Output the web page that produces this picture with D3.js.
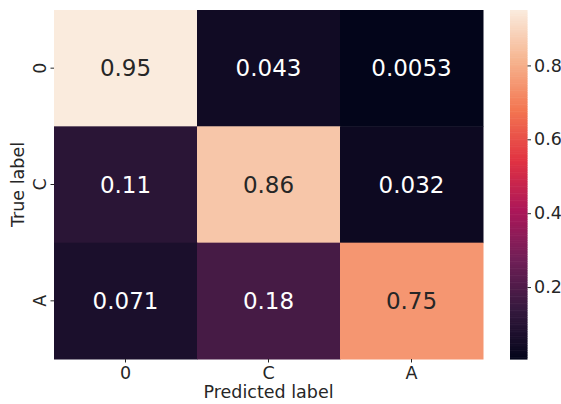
<!DOCTYPE html>
<html>
<head>
<meta charset="utf-8">
<script src="https://cdn.jsdelivr.net/npm/d3@7"></script>
<style>
  body { margin: 0; background: #fff; }
  svg text { font-family: "DejaVu Sans", sans-serif; fill: #262626; }
</style>
</head>
<body>
<svg id="canvas" width="561" height="404"></svg>
<script>
// data
const predicted = ['0', 'C', 'A']
const actual = ['0', 'C', 'A']
const values = [
  [0.95, 0.043, 0.0053],
  [0.11, 0.86, 0.032],
  [0.071, 0.18, 0.75]
]
const colorbarTicks = [0.2, 0.4, 0.6, 0.8]

// seaborn "rocket" approximated with stops
const rocketStops = ['#03051a', '#35193e', '#701f57', '#ad1759', '#e13342', '#f37651', '#f6b48f', '#faebdd']

const canvas = d3.select('#canvas')

const plotLeft = 54, plotRight = 483, plotTop = 10, plotBottom = 359

let cells = []
values.forEach((row, i) => {
  row.forEach((v, j) => {
    cells.push({ row: actual[i], col: predicted[j], value: v })
  })
})

const vmin = d3.min(cells, d => d.value)
const vmax = d3.max(cells, d => d.value)

const rocket = d3.scaleLinear()
  .domain(rocketStops.map((c, i) => i / (rocketStops.length - 1)))
  .range(rocketStops)
  .interpolate(d3.interpolateRgb)

const norm = d3.scaleLinear().domain([vmin, vmax]).range([0, 1])
const color = v => rocket(norm(v))

const xScale = d3.scaleBand().domain(predicted).range([plotLeft, plotRight])
const yScale = d3.scaleBand().domain(actual).range([plotTop, plotBottom])

// cells
canvas.selectAll('rect.cell')
  .data(cells)
  .enter()
  .append('rect')
  .attr('class', 'cell')
  .attr('x', d => xScale(d.col))
  .attr('y', d => yScale(d.row))
  .attr('width', xScale.bandwidth() + 0.5)
  .attr('height', yScale.bandwidth() + 0.5)
  .attr('fill', d => color(d.value))

// annotations
canvas.selectAll('text.annot')
  .data(cells)
  .enter()
  .append('text')
  .attr('class', 'annot')
  .attr('x', d => xScale(d.col) + xScale.bandwidth() / 2)
  .attr('y', d => yScale(d.row) + yScale.bandwidth() / 2)
  .attr('text-anchor', 'middle')
  .attr('dominant-baseline', 'central')
  .style('font-size', '23px')
  .style('fill', d => norm(d.value) > 0.5 ? '#262626' : '#ffffff')
  .text(d => d3.format('.2g')(d.value))

// x axis
const xAxis = d3.axisBottom(xScale).tickSize(3.5).tickPadding(4)
const gx = canvas.append('g')
  .attr('transform', `translate(0, ${plotBottom})`)
  .call(xAxis)
gx.select('.domain').remove()
gx.selectAll('line').attr('stroke', '#262626')
gx.selectAll('text').style('font-size', '17.5px').attr('fill', '#262626')

// y axis
const yAxis = d3.axisLeft(yScale).tickSize(3.5).tickPadding(4)
const gy = canvas.append('g')
  .attr('transform', `translate(${plotLeft}, 0)`)
  .call(yAxis)
gy.select('.domain').remove()
gy.selectAll('line').attr('stroke', '#262626')
gy.selectAll('.tick text')
  .style('font-size', '17.5px')
  .attr('fill', '#262626')
  .attr('text-anchor', 'middle')
  .attr('dy', null)
  .attr('x', null)
  .attr('dominant-baseline', 'central')
  .attr('transform', 'translate(-14, 0) rotate(-90)')

// axis titles
canvas.append('text')
  .attr('x', (plotLeft + plotRight) / 2)
  .attr('y', 398)
  .attr('text-anchor', 'middle')
  .style('font-size', '17.5px')
  .text('Predicted label')

canvas.append('text')
  .attr('transform', `translate(18, ${(plotTop + plotBottom) / 2}) rotate(-90)`)
  .attr('text-anchor', 'middle')
  .attr('dominant-baseline', 'central')
  .style('font-size', '17.5px')
  .text('True label')

// colorbar
const cbLeft = 510, cbWidth = 17.5
const cbScale = d3.scaleLinear().domain([vmin, vmax]).range([plotBottom, plotTop])

const steps = d3.range(0, 200)
const stepH = (plotBottom - plotTop) / steps.length
canvas.append('g')
  .selectAll('rect')
  .data(steps)
  .enter()
  .append('rect')
  .attr('x', cbLeft)
  .attr('y', d => plotBottom - (d + 1) * stepH)
  .attr('width', cbWidth)
  .attr('height', stepH + 0.6)
  .attr('fill', d => rocket((d + 0.5) / steps.length))

const cbAxis = d3.axisRight(cbScale).tickValues(colorbarTicks).tickSize(3.5).tickPadding(3).tickFormat(d3.format('.1f'))
const gc = canvas.append('g')
  .attr('transform', `translate(${cbLeft + cbWidth}, 0)`)
  .call(cbAxis)
gc.select('.domain').remove()
gc.selectAll('line').attr('stroke', '#262626')
gc.selectAll('text').style('font-size', '17.5px').attr('fill', '#262626')
</script>
</body>
</html>
